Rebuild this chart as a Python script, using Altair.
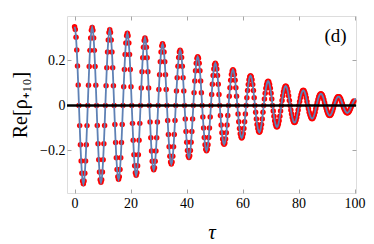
import numpy as np
import pandas as pd
import altair as alt

re_rho = [
    0.350, 0.338, 0.303, 0.247, 0.175, 0.091,
    0, -0.090, -0.175, -0.247, -0.302, -0.337, -0.349, -0.337, -0.302, -0.247, -0.175, -0.090,
    0, 0.090, 0.173, 0.245, 0.300, 0.335, 0.347, 0.335, 0.300, 0.245, 0.173, 0.090,
    0, -0.089, -0.171, -0.242, -0.297, -0.331, -0.342, -0.331, -0.297, -0.242, -0.171, -0.089,
    0, 0.087, 0.168, 0.238, 0.291, 0.325, 0.337, 0.325, 0.291, 0.238, 0.168, 0.087,
    0, -0.085, -0.165, -0.233, -0.285, -0.318, -0.329, -0.318, -0.285, -0.233, -0.165, -0.085,
    0, 0.083, 0.160, 0.227, 0.278, 0.310, 0.321, 0.310, 0.278, 0.227, 0.160, 0.083,
    0, -0.080, -0.155, -0.220, -0.269, -0.300, -0.311, -0.300, -0.269, -0.220, -0.155, -0.080,
    0, 0.078, 0.150, 0.212, 0.259, 0.289, 0.300, 0.289, 0.259, 0.212, 0.150, 0.078,
    0, -0.074, -0.144, -0.203, -0.249, -0.278, -0.287, -0.278, -0.249, -0.203, -0.144, -0.074,
    0, 0.071, 0.137, 0.194, 0.238, 0.265, 0.274, 0.265, 0.238, 0.194, 0.137, 0.071,
    0, -0.067, -0.130, -0.184, -0.226, -0.252, -0.261, -0.252, -0.226, -0.184, -0.130, -0.067,
    0, 0.064, 0.123, 0.174, 0.213, 0.238, 0.246, 0.238, 0.213, 0.174, 0.123, 0.064,
    0, -0.060, -0.116, -0.164, -0.201, -0.224, -0.232, -0.224, -0.201, -0.164, -0.116, -0.060,
    0, 0.056, 0.109, 0.154, 0.188, 0.210, 0.217, 0.210, 0.188, 0.154, 0.109, 0.056,
    0, -0.052, -0.101, -0.143, -0.175, -0.195, -0.202, -0.195, -0.175, -0.143, -0.101, -0.052,
    0, 0.049, 0.094, 0.133, 0.162, 0.181, 0.188, 0.181, 0.162, 0.133, 0.094, 0.049,
    0, -0.045, -0.087, -0.122, -0.150, -0.167, -0.173, -0.167, -0.150, -0.122, -0.087, -0.045,
    0, 0.041, 0.079, 0.112, 0.138, 0.153, 0.159, 0.153, 0.138, 0.112, 0.079, 0.041,
    0, -0.038, -0.073, -0.103, -0.126, -0.140, -0.145, -0.140, -0.126, -0.103, -0.073, -0.038,
    0, 0.034, 0.066, 0.093, 0.114, 0.128, 0.132, 0.128, 0.114, 0.093, 0.066, 0.034,
    0, -0.031, -0.060, -0.085, -0.103, -0.115, -0.120, -0.115, -0.103, -0.085, -0.060, -0.031,
    0, 0.028, 0.054, 0.076, 0.093, 0.104, 0.108, 0.104, 0.093, 0.076, 0.054, 0.028,
    0, -0.025, -0.048, -0.068, -0.083, -0.093, -0.096, -0.093, -0.083, -0.068, -0.048, -0.025,
    0, 0.022, 0.043, 0.061, 0.074, 0.083, 0.086, 0.083, 0.074, 0.061, 0.043, 0.022,
    0, -0.020, -0.038, -0.054, -0.066, -0.074, -0.076, -0.074, -0.066, -0.054, -0.038, -0.020,
    0, 0.017, 0.034, 0.048, 0.058, 0.065, 0.067, 0.065, 0.058, 0.048, 0.034, 0.017,
    0, -0.015, -0.030, -0.042, -0.051, -0.057, -0.059, -0.057, -0.051, -0.042, -0.030, -0.015,
    0, 0.013, 0.026, 0.037, 0.045, 0.050, 0.052, 0.050, 0.045, 0.037, 0.026, 0.013,
    0, -0.012, -0.023, -0.032, -0.039, -0.044, -0.045, -0.044, -0.039, -0.032, -0.023, -0.012,
    0, 0.010, 0.020, 0.028, 0.034, 0.038, 0.039, 0.038, 0.034, 0.028, 0.020, 0.010,
    0, -0.009, -0.017, -0.024, -0.029, -0.032, -0.034, -0.032, -0.029, -0.024, -0.017, -0.009,
    0, 0.007, 0.014, 0.020, 0.025, 0.028, 0.029,
]
tau_step = np.pi / 12  # sampling step of tau
tau = [i * tau_step for i in range(len(re_rho))]
df = pd.DataFrame({"tau": tau, "re": re_rho})

x_ticks = [0, 20, 40, 60, 80, 100]
y_ticks = [-0.2, 0, 0.2]
x_domain = [-2.7, 100.5]
y_domain = [-0.39, 0.398]
dots_max_tau = 100

panel_label = pd.DataFrame({"tau": [93.2], "re": [0.282], "text": ["(d)"]})
zero_df = pd.DataFrame({"re": [0.0]})

FONT = "Liberation Serif"
GRAY = "#a6a6a6"

xs = alt.Scale(domain=x_domain, nice=False, zero=False)
ys = alt.Scale(domain=y_domain, nice=False, zero=False)

common = dict(domain=False, grid=False, ticks=True, tickSize=4, offset=-4,
              tickColor=GRAY, tickWidth=1, labelFont=FONT, labelFontSize=14,
              labelColor="black")

x_bottom = alt.Axis(values=x_ticks, orient="bottom", labelPadding=3, format="d",
                    title="τ", titleFont=FONT, titleFontSize=21, titleFontStyle="italic",
                    titleFontWeight="normal", titleColor="black", titleY=49,
                    titleBaseline="alphabetic", **common)
y_left = alt.Axis(values=y_ticks, orient="left", labelPadding=2,
                  labelExpr="datum.value == 0 ? '0' : format(datum.value, '.1f')",
                  title="Re[ρ₊₁₀]", titleFont=FONT, titleFontSize=20,
                  titleFontWeight="normal", titleColor="black", titleX=-45,
                  titleBaseline="alphabetic", titleAlign="center", **common)
x_top = alt.Axis(values=x_ticks, orient="top", labels=False, title=None, **common)
y_right = alt.Axis(values=y_ticks, orient="right", labels=False, title=None, **common)

dots = alt.Chart(df).transform_filter(f"datum.tau <= {dots_max_tau}").mark_circle(
    color="#ff0000", size=30, opacity=1
).encode(
    x=alt.X("tau:Q", scale=xs, axis=x_bottom),
    y=alt.Y("re:Q", scale=ys, axis=y_left),
)

line = alt.Chart(df).mark_line(color="#5e81b5", strokeWidth=1.8, clip=True).encode(
    x=alt.X("tau:Q", scale=xs, axis=x_top),
    y=alt.Y("re:Q", scale=ys, axis=y_right),
)

zero = alt.Chart(zero_df).mark_rule(color="black", strokeWidth=2.5).encode(
    y=alt.Y("re:Q", scale=ys, axis=None),
)

label = alt.Chart(panel_label).mark_text(
    font=FONT, fontSize=19, align="center", baseline="alphabetic", color="black"
).encode(
    x=alt.X("tau:Q", scale=xs, axis=None),
    y=alt.Y("re:Q", scale=ys, axis=None),
    text="text:N",
)

chart = alt.layer(dots, line, zero, label).resolve_axis(
    x="independent", y="independent"
).properties(
    width=289, height=177,
    autosize=alt.AutoSizeParams(type="none"),
    padding={"left": 59, "top": 8, "right": 10, "bottom": 50},
).configure_view(stroke=GRAY, strokeWidth=1).configure(background="white")

chart.save("out.html", embed_options={"renderer": "svg", "actions": False})
